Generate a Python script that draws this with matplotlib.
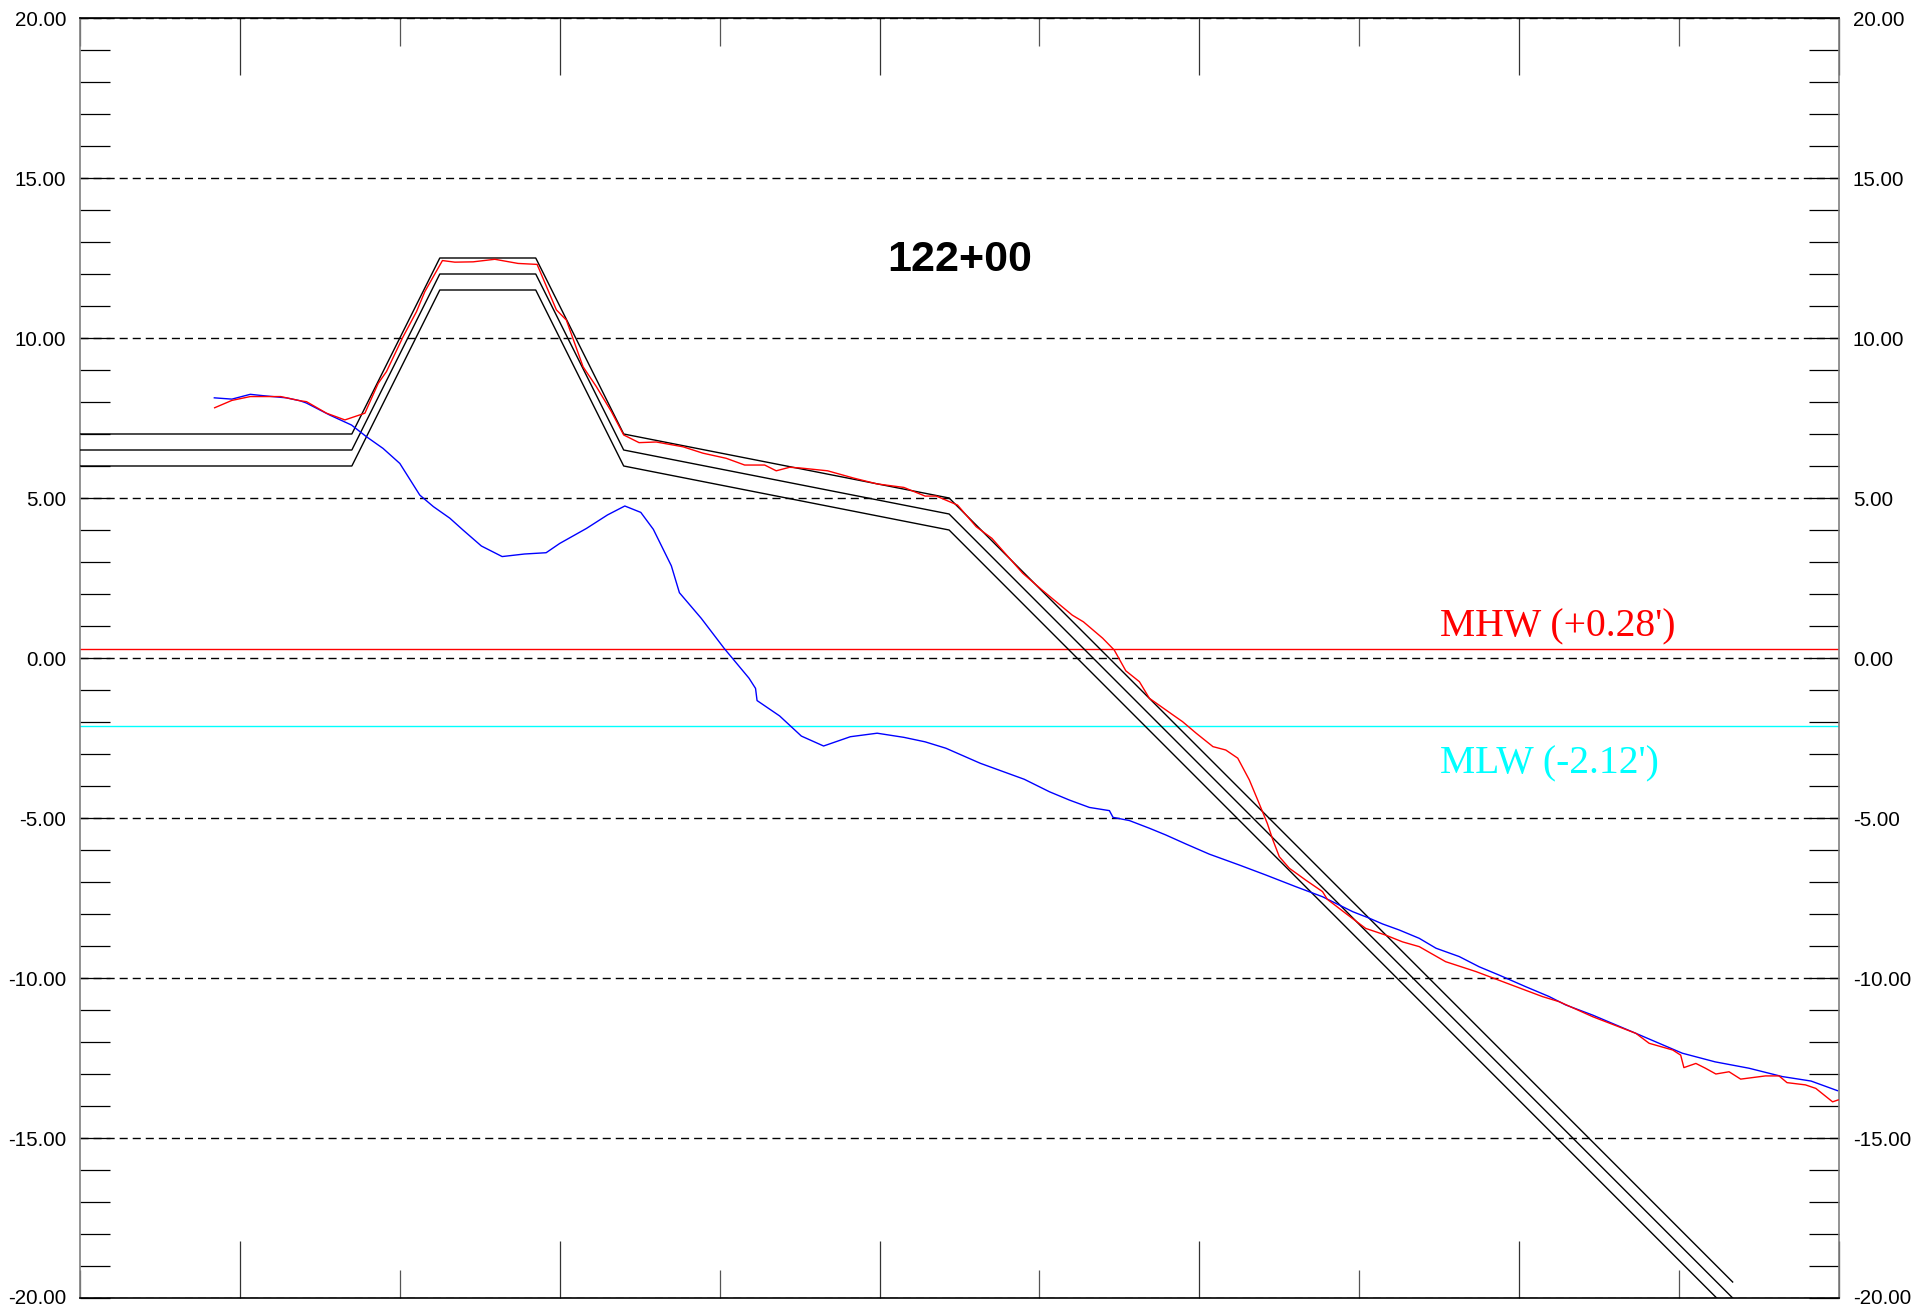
import matplotlib
matplotlib.use("Agg")
import matplotlib.pyplot as plt
from matplotlib.ticker import MultipleLocator, FixedLocator, FormatStrFormatter

# ---------------- data ----------------
title_text = "122+00"
mhw_value = 0.28
mlw_value = -2.12
mhw_label = "MHW (+0.28')"
mlw_label = "MLW (-2.12')"

# design template (top line), the other two are offset downward
template_x = [0.0, 34.0, 45.0, 57.0, 68.0, 108.7, 206.7]
template_top_y = [7.0, 7.0, 12.5, 12.5, 7.0, 5.0, -19.5]
template_offsets = [0.0, 0.5, 1.0]

# blue profile
blue_x = [16.8, 19.0, 21.3, 22.8, 25.8, 27.5, 28.3, 31.25, 33.96, 35.8, 37.9, 40.0,
          42.5, 44.2, 46.25, 47.9, 50.2, 52.8, 55.6, 58.3, 60.0, 63.35, 65.97, 68.14,
          70.14, 71.71, 73.96, 74.97, 77.7, 80.57, 83.67, 84.49, 84.68, 87.5, 90.22,
          93.0, 96.35, 99.7, 103.05, 105.7, 108.3, 112.6, 118.1, 121.25, 123.75,
          126.25, 128.75, 129.2, 131.25, 133.75, 135.8, 138.3, 141.25, 145.0, 148.3,
          152.1, 155.4, 159.2, 161.25, 162.9, 165.0, 167.5, 169.6, 172.5, 175.0,
          177.5, 180.8, 183.75, 185.8, 189.2, 194.6, 200.4, 204.5, 208.75, 212.9, 216.5, 219.8]
blue_y = [8.13, 8.09, 8.24, 8.20, 8.13, 8.04, 7.97, 7.59, 7.28, 6.92, 6.55, 6.08,
          5.09, 4.73, 4.37, 4.00, 3.50, 3.17, 3.25, 3.29, 3.58, 4.05, 4.47, 4.75,
          4.55, 4.02, 2.88, 2.04, 1.24, 0.30, -0.63, -0.95, -1.33, -1.81, -2.44,
          -2.75, -2.46, -2.35, -2.48, -2.62, -2.82, -3.29, -3.79, -4.18, -4.44,
          -4.67, -4.77, -4.98, -5.08, -5.32, -5.53, -5.81, -6.13, -6.47, -6.78,
          -7.15, -7.46, -7.93, -8.13, -8.31, -8.50, -8.76, -9.07, -9.33, -9.65,
          -9.91, -10.27, -10.58, -10.84, -11.16, -11.73, -12.35, -12.62, -12.82, -13.08, -13.22, -13.52]

# red profile
red_x = [16.84, 19.0, 21.3, 25.1, 27.5, 28.33, 30.83, 33.13, 35.63, 37.29, 38.33,
         40.41, 42.08, 43.13, 45.33, 46.88, 49.17, 51.88, 54.79, 57.17, 59.58, 60.83,
         62.92, 64.58, 66.46, 68.0, 69.92, 72.08, 75.42, 77.92, 80.83, 83.13, 85.63,
         87.08, 88.75, 90.0, 93.5, 96.8, 99.7, 103.05, 105.7, 107.1, 109.75, 112.1,
         114.05, 117.9, 120.3, 124.1, 125.5, 127.9, 129.35, 130.8, 132.5, 133.75,
         136.7, 137.9, 139.6, 141.7, 143.3, 144.8, 146.25, 147.3, 148.5, 149.2, 150.0,
         151.25, 153.3, 155.4, 156.0, 158.3, 160.8, 163.3, 165.4, 167.5, 170.8, 174.6,
         179.6, 182.9, 185.0, 189.2, 194.6, 196.25, 199.2, 200.2, 200.6, 202.1, 203.3,
         204.6, 206.25, 207.7, 210.8, 212.5, 213.5, 215.8, 217.1, 219.2, 219.9]
red_y = [7.82, 8.05, 8.17, 8.17, 8.04, 8.01, 7.65, 7.44, 7.65, 8.58, 8.95,
         10.04, 10.82, 11.45, 12.42, 12.37, 12.38, 12.46, 12.33, 12.30, 10.88, 10.56,
         9.10, 8.48, 7.70, 6.97, 6.73, 6.75, 6.60, 6.40, 6.24, 6.03, 6.03,
         5.85, 5.96, 5.94, 5.85, 5.62, 5.44, 5.33, 5.06, 5.06, 4.78, 4.10,
         3.74, 2.65, 2.13, 1.34, 1.13, 0.62, 0.25, -0.40, -0.74, -1.26,
         -1.78, -1.99, -2.35, -2.77, -2.875, -3.13, -3.81, -4.44, -5.17, -5.69, -6.21,
         -6.57, -6.94, -7.30, -7.54, -7.98, -8.45, -8.66, -8.87, -9.02, -9.49, -9.80,
         -10.27, -10.58, -10.74, -11.21, -11.73, -12.04, -12.25, -12.41, -12.80, -12.67, -12.82,
         -13.00, -12.93, -13.16, -13.06, -13.06, -13.27, -13.34, -13.45, -13.87, -13.81]

x_limits = (0, 220)
y_limits = (-20, 20)
x_long_ticks = [20, 60, 100, 140, 180, 220]
x_short_ticks = [0, 40, 80, 120, 160, 200]

# ---------------- figure ----------------
fig = plt.figure(figsize=(19.13, 13.07), dpi=100)
ax = fig.add_axes([80 / 1913, 9 / 1307, 1759 / 1913, 1280 / 1307])
ax.set_xlim(*x_limits)
ax.set_ylim(*y_limits)

# grid
ax.yaxis.set_major_locator(MultipleLocator(5))
ax.yaxis.set_minor_locator(MultipleLocator(1))
ax.yaxis.set_major_formatter(FormatStrFormatter('%.2f'))
ax.grid(axis='y', which='major', color='black', lw=1.0, linestyle=(0, (5.8, 3.6)), zorder=1)

# x ticks
ax.xaxis.set_major_locator(FixedLocator(x_long_ticks))
ax.xaxis.set_minor_locator(FixedLocator(x_short_ticks))
ax.tick_params(axis='x', which='major', direction='in', length=41, width=0.9,
               top=True, bottom=True, labelbottom=False, labeltop=False, color='#333333')
ax.tick_params(axis='x', which='minor', direction='in', length=20.2, width=0.9,
               top=True, bottom=True, color='#555555')
ax.tick_params(axis='y', which='both', direction='in', length=21.6, width=0.9,
               left=True, right=True, labelleft=True, labelright=True, color='black')
ax.tick_params(axis='y', which='major', pad=10.0, labelsize=14.8)

fig.canvas.draw()
for tick in ax.yaxis.get_major_ticks():
    for lab in (tick.label1, tick.label2):
        lab.set_fontfamily('Liberation Sans')
    if abs(tick.get_loc() - y_limits[0]) < 1e-9:
        tick.label1.set_verticalalignment('center')
        tick.label2.set_verticalalignment('center')

# spines
for side in ['left', 'right']:
    ax.spines[side].set_color('#808080')
    ax.spines[side].set_linewidth(1.2)
for side in ['top', 'bottom']:
    ax.spines[side].set_color('black')
    ax.spines[side].set_linewidth(1.2)

# tidal lines
ax.axhline(mhw_value, color='#ff0000', lw=1.0, zorder=2)
ax.axhline(mlw_value, color='#00ffff', lw=1.0, zorder=2)

# template
for off in template_offsets:
    ax.plot(template_x, [v - off for v in template_top_y], color='black', lw=1.0,
            zorder=3, clip_on=True)

# profiles
ax.plot(blue_x, blue_y, color='#0000ff', lw=1.0, zorder=4)
ax.plot(red_x, red_y, color='#ff0000', lw=1.0, zorder=5)

# labels
ax.text(110.0, 12.45, title_text, ha='center', va='center', fontsize=31,
        fontweight='bold', family='Liberation Sans', zorder=6)
ax.text(170.1, 0.67, mhw_label, ha='left', va='baseline', fontsize=28.5,
        color='#ff0000', family='Liberation Serif', zorder=6)
ax.text(170.1, -3.6, mlw_label, ha='left', va='baseline', fontsize=28.5,
        color='#00ffff', family='Liberation Serif', zorder=6)

fig.savefig('out.png', dpi=100)
